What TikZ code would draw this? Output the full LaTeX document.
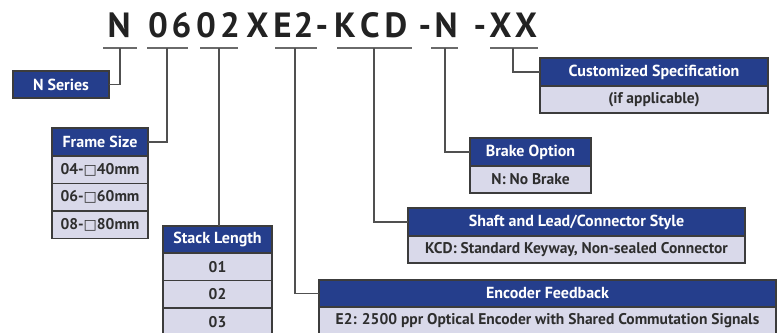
\documentclass[tikz,border=0pt]{standalone}
\usepackage{fontspec}
\setmainfont{PT Sans}
\newfontfamily\symfont{DejaVu Sans}
\definecolor{hdrblue}{HTML}{253E8C}
\definecolor{rowfill}{HTML}{D9D9EA}
\definecolor{edge}{HTML}{3C3C3C}
\definecolor{wire}{HTML}{505050}
\definecolor{codeink}{HTML}{222222}
\definecolor{rowink}{HTML}{2E2E2E}
\newcommand{\sq}{{\symfont\fontsize{14}{14}\selectfont\char"25A1}}
\tikzset{
  box/.style={draw=edge, line width=1.1pt, rectangle, inner sep=0pt, outer sep=0pt},
  hdr/.style={box, fill=hdrblue, text=white, font=\bfseries\fontsize{16}{17}\selectfont},
  rowc/.style={box, fill=rowfill, text=rowink, font=\bfseries\fontsize{15.5}{16}\selectfont},
  wireline/.style={draw=wire, line width=1.8pt},
  barline/.style={draw=wire!85!white, line width=1.8pt},
  codechar/.style={anchor=base, inner sep=0pt, text=codeink, font=\bfseries\fontsize{35}{35}\selectfont}
}
\begin{document}
\begin{tikzpicture}[x=1pt,y=-1pt]
\useasboundingbox (0,0) rectangle (778,332);
\begin{scope}
\clip (0,0) rectangle (778,332);
% code characters
\node[codechar] (c1) at (119,37) {N};
\node[codechar] (c2) at (158,37) {0};
\node[codechar] (c3) at (181.5,37) {6};
\node[codechar] (c4) at (206,37) {0};
\node[codechar] (c5) at (230,37) {2};
\node[codechar] (c6) at (257.5,37) {X};
\node[codechar] (c7) at (282.5,37) {E};
\node[codechar] (c8) at (303.5,37) {2};
\node[codechar] (c9) at (322,37) {-};
\node[codechar] (c10) at (345,37) {K};
\node[codechar] (c11) at (370,37) {C};
\node[codechar] (c12) at (396,37) {D};
\node[codechar] (c13) at (425,37) {-};
\node[codechar] (c14) at (446,37) {N};
\node[codechar] (c15) at (480,37) {-};
\node[codechar] (c16) at (500.5,37) {X};
\node[codechar] (c17) at (526,37) {X};
% bars
\coordinate (b1l) at (103,48); \coordinate (b1r) at (137,48); \coordinate (s1) at (120,48);
\coordinate (b2l) at (147,48); \coordinate (b2r) at (188,48); \coordinate (s2) at (167,48);
\coordinate (b3l) at (200,48); \coordinate (b3r) at (238,48); \coordinate (s3) at (219,48);
\coordinate (b4l) at (275,48); \coordinate (b4r) at (317,48); \coordinate (s4) at (295,48);
\coordinate (b5l) at (337,48); \coordinate (b5r) at (412,48); \coordinate (s5) at (374,48);
\coordinate (b6l) at (431,48); \coordinate (b6r) at (458,48); \coordinate (s6) at (445,48);
\coordinate (b7l) at (490,48); \coordinate (b7r) at (538,48); \coordinate (s7) at (513,48);
\foreach \i in {1,...,7} { \draw[barline] (b\i l) -- (b\i r); }
% N Series
\node[hdr, minimum width=96pt, minimum height=27pt] (nser) at (61,84.5) {N Series};
% Frame size
\node[hdr, minimum width=96pt, minimum height=28pt] (fhdr) at (100,142) {Frame Size};
\node[rowc, minimum width=96pt, minimum height=27.5pt, anchor=north] (f1) at (fhdr.south) {04-\sq40mm};
\node[rowc, minimum width=96pt, minimum height=27.5pt, anchor=north] (f2) at (f1.south) {06-\sq60mm};
\node[rowc, minimum width=96pt, minimum height=27.5pt, anchor=north] (f3) at (f2.south) {08-\sq80mm};
% Stack length
\node[hdr, minimum width=109pt, minimum height=27pt] (shdr) at (217.5,239.5) {Stack Length};
\node[rowc, minimum width=109pt, minimum height=27.5pt, anchor=north] (s1r) at (shdr.south) {01};
\node[rowc, minimum width=109pt, minimum height=27.5pt, anchor=north] (s2r) at (s1r.south) {02};
\node[rowc, minimum width=109pt, minimum height=27.5pt, anchor=north] (s3r) at (s2r.south) {03};
% Encoder
\node[hdr, minimum width=457pt, minimum height=27pt] (ehdr) at (547.5,293.5) {Encoder Feedback};
\node[rowc, minimum width=457pt, minimum height=27pt, anchor=north] (e1) at (ehdr.south) {E2: 2500 ppr Optical Encoder with Shared Commutation Signals};
% Shaft
\node[hdr, minimum width=337pt, minimum height=28pt] (khdr) at (576.5,222) {Shaft and Lead/Connector Style};
\node[rowc, minimum width=337pt, minimum height=27pt, anchor=north] (k1) at (khdr.south) {KCD: Standard Keyway, Non-sealed Connector};
% Brake
\node[hdr, minimum width=121pt, minimum height=28pt] (bhdr) at (530.5,152) {Brake Option};
\node[rowc, minimum width=121pt, minimum height=27pt, anchor=north] (b1) at (bhdr.south) {N: No Brake};
% Custom
\node[hdr, minimum width=228pt, minimum height=28pt] (chdr) at (654,72) {Customized Specification};
\node[rowc, minimum width=228pt, minimum height=27pt, anchor=north] (cr1) at (chdr.south) {(if applicable)};
% connectors
\draw[wireline] (s1) |- (nser.east);
\draw[wireline] (s2) |- (fhdr.east);
\draw[wireline] (s3) -- (s3 |- shdr.north);
\draw[wireline] (s4) |- (ehdr.west);
\draw[wireline] (s5) |- (khdr.west);
\draw[wireline] (s6) |- (bhdr.west);
\draw[wireline] (s7) |- (chdr.west);
\end{scope}
\end{tikzpicture}
\end{document}
